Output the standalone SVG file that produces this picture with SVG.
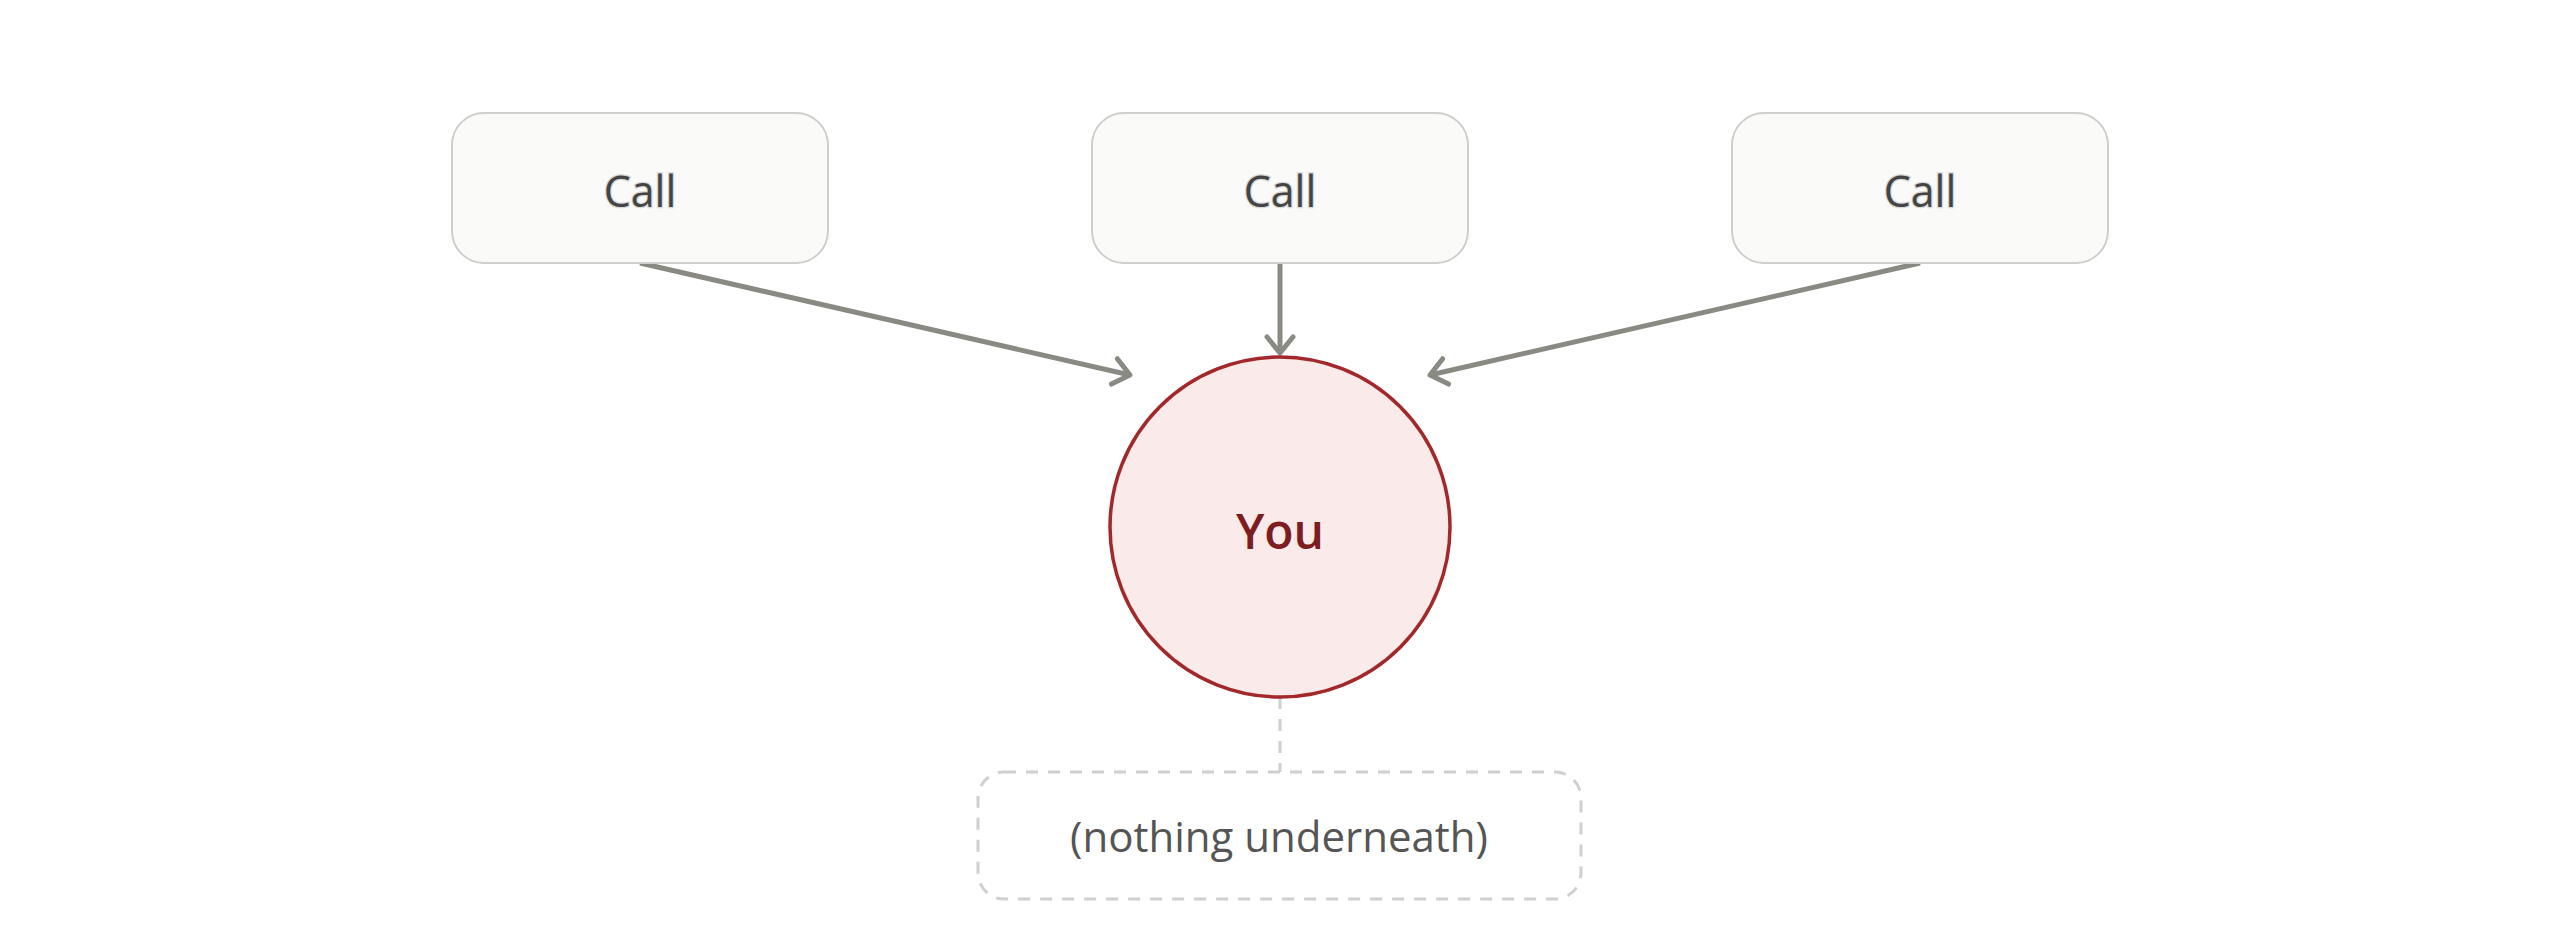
<svg xmlns="http://www.w3.org/2000/svg" width="2560" height="941" viewBox="0 0 2560 941">
  <defs>
    <style>
      .box { fill: #fafaf9; stroke: #cfcfcb; stroke-width: 2; }
      .lbl { font-family: "Open Sans", "Noto Sans", "Liberation Sans", sans-serif; font-size: 43px; fill: #444444; text-anchor: middle; stroke: #d8d8d8; stroke-width: 2.5; paint-order: stroke; }
      .you { font-family: "Open Sans", "Noto Sans", "Liberation Sans", sans-serif; font-size: 48px; font-weight: 600; fill: #7c1e1f; text-anchor: middle; }
      .note { font-family: "Open Sans", "Noto Sans", "Liberation Sans", sans-serif; font-size: 42px; fill: #555555; text-anchor: middle; }
      .edge { stroke: #8a8a83; stroke-width: 5; fill: none; }
      .dash { stroke: #d0d0d0; stroke-width: 3; fill: none; stroke-dasharray: 12 10; }
    </style>
    <marker id="arr" viewBox="-22 -16 26 32" refX="0" refY="0" markerWidth="26" markerHeight="32" markerUnits="userSpaceOnUse" orient="auto">
      <path d="M -16 -13 L 0 0 L -16 13" fill="none" stroke="#8a8a83" stroke-width="5" stroke-linecap="round" stroke-linejoin="round"/>
    </marker>
  </defs>
  <rect width="2560" height="941" fill="#ffffff"/>

  <g id="connectors">
    <line class="edge" x1="640" y1="263" x2="1130" y2="375" marker-end="url(#arr)"/>
    <line class="edge" x1="1280" y1="263" x2="1280" y2="353" marker-end="url(#arr)"/>
    <line class="edge" x1="1920" y1="263" x2="1430" y2="375" marker-end="url(#arr)"/>
    <line class="dash" x1="1280" y1="697" x2="1280" y2="772"/>
  </g>

  <g id="call-left">
    <rect class="box" x="452" y="113" width="376" height="150" rx="32"/>
    <text class="lbl" x="640" y="207">Call</text>
  </g>
  <g id="call-middle">
    <rect class="box" x="1092" y="113" width="376" height="150" rx="32"/>
    <text class="lbl" x="1280" y="207">Call</text>
  </g>
  <g id="call-right">
    <rect class="box" x="1732" y="113" width="376" height="150" rx="32"/>
    <text class="lbl" x="1920" y="207">Call</text>
  </g>

  <g id="you">
    <circle cx="1280" cy="527" r="170" fill="#fbeaea" stroke="#a3282a" stroke-width="3.5"/>
    <text class="you" x="1280" y="549">You</text>
  </g>

  <g id="nothing">
    <rect class="dash" x="978" y="772" width="603" height="127" rx="26"/>
    <text class="note" x="1279" y="852">(nothing underneath)</text>
  </g>
</svg>
